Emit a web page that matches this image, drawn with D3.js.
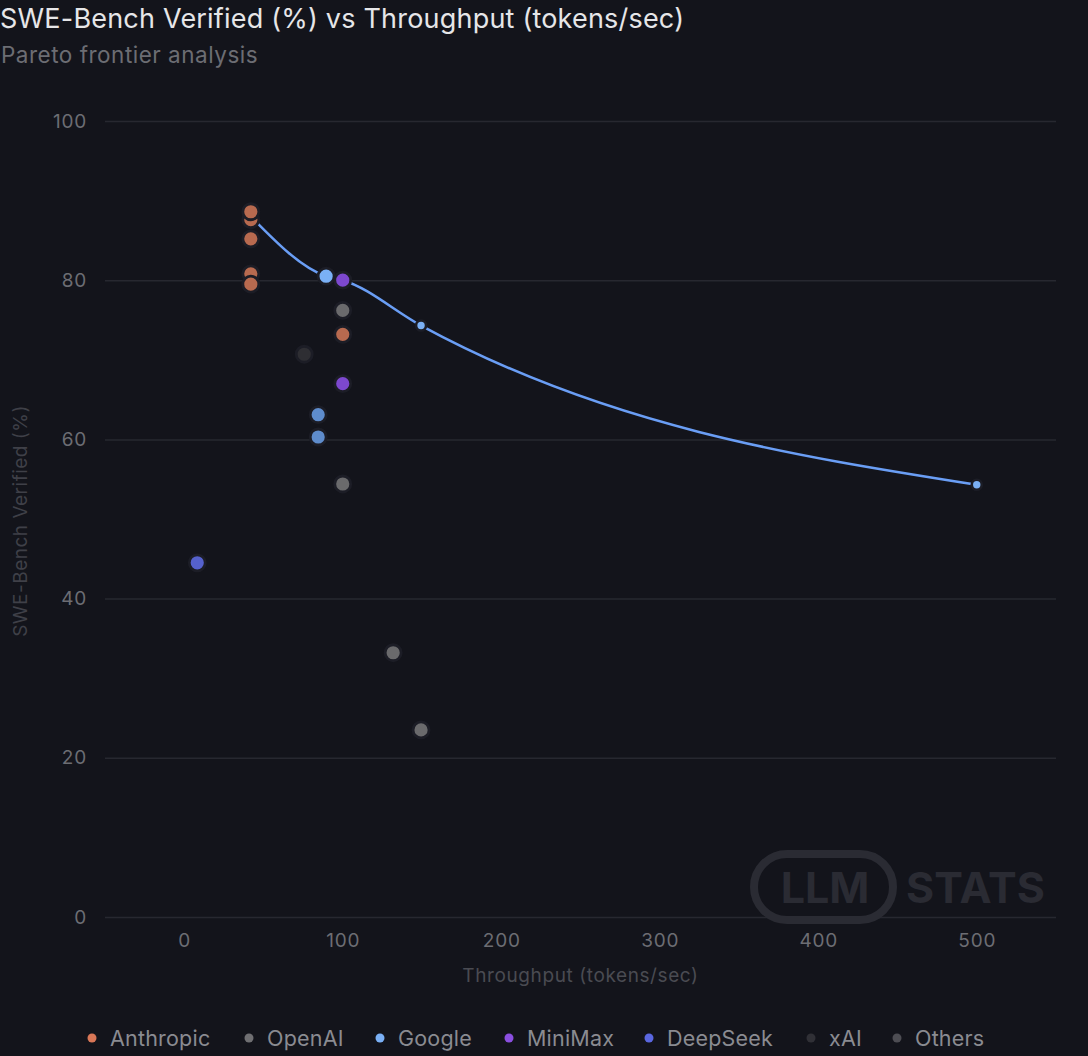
<!DOCTYPE html>
<html><head><meta charset="utf-8">
<script src="https://cdn.jsdelivr.net/npm/d3@7"></script>
<style>
html,body{margin:0;padding:0;background:#13141b;}
svg{display:block;font-family:Inter,"Noto Sans",sans-serif;}
</style></head>
<body><svg id="c" width="1088" height="1056"></svg>
<script>
const providers = ["Anthropic","OpenAI","Google","MiniMax","DeepSeek","xAI","Others"];
const providerColors = ["#d97757","#6f6f72","#7ab0f5","#8b4fe0","#5a67e0","#303036","#4d4d53"];
const pointColors = {Anthropic:"#b86a4f",OpenAI:"#6a6a6c",Google:"#5e8ccc",MiniMax:"#7d48cf",DeepSeek:"#5561cc",xAI:"#2e2e33",Others:"#4d4d53"};
const pointProvider = ["Anthropic","Anthropic","Anthropic","Anthropic","Anthropic","Anthropic","Google","Google","Google","Google","Google","MiniMax","MiniMax","OpenAI","OpenAI","OpenAI","OpenAI","xAI","DeepSeek"];
const pointThroughput = [42,42,42,42,42,100,89.5,84.5,84.5,149.4,500,100,100,100,100,131.8,149.4,75.7,8.2];
const pointScore      = [87.6,88.6,85.2,80.8,79.5,73.2,80.5,63.1,60.3,74.3,54.3,80.0,67.0,76.2,54.4,33.2,23.5,70.7,44.5];
const pointFrontier   = [0,0,0,0,0,0,1,0,0,1,1,0,0,0,0,0,0,0,0];
const frontierThroughput = [42,89.5,100,149.4,500];
const frontierScore      = [88.0,80.5,80.0,74.3,54.3];
const yTicks = [0,20,40,60,80,100];
const xTicks = [0,100,200,300,400,500];

const svg = d3.select("#c");
const W=1088,H=1056;
svg.append("rect").attr("width",W).attr("height",H).attr("fill","#13141b");
const m={l:105,r:1056,t:121,b:917};
const x=d3.scaleLinear().domain([-50,550]).range([m.l,m.r]);
const y=d3.scaleLinear().domain([0,100]).range([m.b,m.t]);

svg.append("text").attr("x",0).attr("y",28).attr("fill","#e6e6e8").attr("font-size",27).attr("letter-spacing",0.2).text("SWE-Bench Verified (%) vs Throughput (tokens/sec)");
svg.append("text").attr("x",1).attr("y",63).attr("fill","#6c6d73").attr("font-size",22.5).attr("letter-spacing",0.5).text("Pareto frontier analysis");

// grid
const gy=svg.append("g").attr("transform",`translate(${m.l},0)`)
  .call(d3.axisLeft(y).tickValues(yTicks).tickSize(-(m.r-m.l)).tickPadding(18));
gy.select(".domain").remove();
gy.selectAll(".tick line").attr("stroke","#272830").attr("stroke-width",1.5);
gy.selectAll(".tick text").attr("fill","#6c6d73").attr("font-size",19).attr("letter-spacing",0.8).attr("font-family","Inter,sans-serif");

const gx=svg.append("g").attr("transform",`translate(0,${m.b})`)
  .call(d3.axisBottom(x).tickValues(xTicks).tickSize(0).tickPadding(17));
gx.select(".domain").remove();
gx.selectAll(".tick text").attr("fill","#6c6d73").attr("font-size",19).attr("letter-spacing",0.8).attr("font-family","Inter,sans-serif");

svg.append("text").attr("x",(m.l+m.r)/2).attr("y",982).attr("text-anchor","middle").attr("fill","#4a4b52").attr("font-size",19).attr("letter-spacing",0.6).text("Throughput (tokens/sec)");
svg.append("text").attr("transform","translate(27,521) rotate(-90)").attr("text-anchor","middle").attr("fill","#3f4048").attr("font-size",19).attr("letter-spacing",0.5).text("SWE-Bench Verified (%)");

// watermark
const wm=svg.append("g");
wm.append("rect").attr("x",754).attr("y",854).attr("width",139).attr("height",66).attr("rx",33).attr("fill","none").attr("stroke","#2a2b33").attr("stroke-width",8);
wm.append("text").attr("x",825).attr("y",903).attr("text-anchor","middle").attr("fill","#2a2b33").attr("font-size",43).attr("font-weight",700).attr("font-family","Inter,sans-serif").text("LLM");
wm.append("text").attr("x",906).attr("y",903).attr("fill","#2a2b33").attr("font-size",43).attr("font-weight",700).attr("font-family","Inter,sans-serif").attr("textLength",139).text("STATS");

// frontier line
const fdata=frontierThroughput.map((t,i)=>[t,frontierScore[i]]);
svg.append("path").datum(fdata).attr("fill","none").attr("stroke","#6a9ef5").attr("stroke-width",2.5)
  .attr("d",d3.line().x(d=>x(d[0])).y(d=>y(d[1])).curve(d3.curveMonotoneX));

// points
const pts=pointProvider.map((p,i)=>({p,t:pointThroughput[i],s:pointScore[i],f:pointFrontier[i]}));
svg.append("g").selectAll("circle").data(pts).join("circle")
  .attr("cx",d=>x(d.t)).attr("cy",d=>y(d.s))
  .attr("r",d=>d.f? (d.t>120?5:8):8)
  .attr("fill",d=>d.f?"#7ab0f5":pointColors[d.p])
  .attr("stroke","#1c1d26").attr("stroke-width",d=>d.f&&d.t>120?2.6:2.8);

// legend
const legX=[92,249,380,509,649,811,897];
const lg=svg.append("g");
providers.forEach((p,i)=>{
  lg.append("circle").attr("cx",legX[i]).attr("cy",1038).attr("r",4.5).attr("fill",providerColors[i]);
  lg.append("text").attr("x",legX[i]+18).attr("y",1045.5).attr("fill","#8a8b91").attr("font-size",21.5).attr("letter-spacing",0.2).text(p);
});
</script></body></html>
